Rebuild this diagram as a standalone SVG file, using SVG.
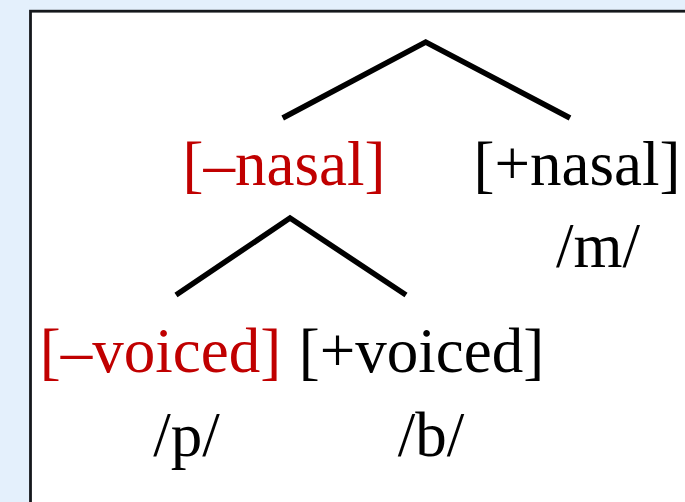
<svg xmlns="http://www.w3.org/2000/svg" width="685" height="502" viewBox="0 0 685 502">
<style>
.t{font-family:"Liberation Serif","Times New Roman",serif;font-size:63px;text-anchor:middle;fill:#000}
.r{fill:#c00000}
.e{stroke:#000;stroke-width:5.5;fill:none;stroke-linecap:butt;stroke-linejoin:miter}
</style>
<rect x="0" y="0" width="685" height="502" fill="#e4f0fc"/>
<rect x="30.5" y="11.2" width="700" height="520" fill="#fff" stroke="#15181c" stroke-width="2.8"/>
<g id="connectors">
<polyline class="e" points="282.7,118 425.7,42 570,118"/>
<polyline class="e" points="176,295 290,218 406,295"/>
</g>
<g id="minus-nasal"><text class="t r" x="284" y="185">[–nasal]</text></g>
<g id="plus-nasal"><text class="t" x="577" y="185">[+nasal]</text><text class="t" x="598" y="267">/m/</text></g>
<g id="minus-voiced"><text class="t r" x="160.5" y="372">[–voiced]</text><text class="t" x="186.5" y="456">/p/</text></g>
<g id="plus-voiced"><text class="t" x="421.5" y="372">[+voiced]</text><text class="t" x="431" y="456">/b/</text></g>
</svg>
